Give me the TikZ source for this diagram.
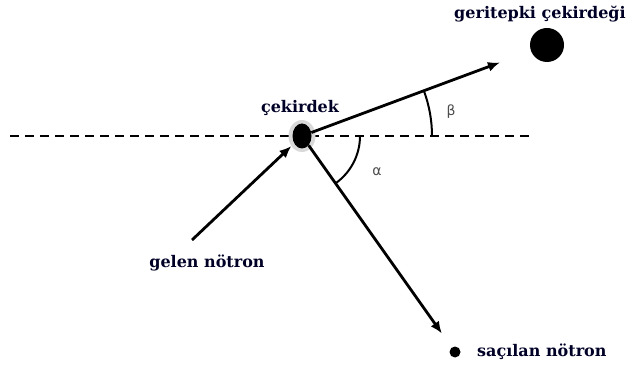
\documentclass[tikz,border=0pt]{standalone}
\usepackage{fontspec}
\setmainfont{DejaVu Serif}
\newfontfamily\greekfont{DejaVu Sans}
\usetikzlibrary{arrows.meta,shapes.geometric,calc}

\begin{document}
\begin{tikzpicture}[x=1pt, y=1pt,
      nuc/.style={ellipse, fill=black, minimum width=19pt, minimum height=25pt, inner sep=0pt},
      halo/.style={ellipse, fill=black!15, minimum width=27pt, minimum height=32pt, inner sep=0pt},
      ball/.style={circle, fill=black, inner sep=0pt},
      lbl/.style={font=\fontsize{16}{18}\selectfont\bfseries, text=black!85!blue, inner sep=1pt},
      ang/.style={font=\greekfont\fontsize{14}{16}\selectfont, text=black!70, inner sep=1pt},
      arr/.style={-{Latex[length=12pt,width=10pt]}, line width=2.8pt},
      axis/.style={dashed, dash pattern=on 9pt off 6pt, line width=2.4pt},
      arcline/.style={line width=2pt}
    ]
    \useasboundingbox (0,0) rectangle (631,367);
    % axis and nuclei
    \draw[axis] (10,231) -- (530,231);
    \node[halo] (halo) at (302,231) {};
    \node[nuc]  (cek)  at (302,231) {};
    \node[ball, minimum size=34pt] (geri) at (547,322) {};
    \node[ball, minimum size=11pt] (sac)  at (455,15) {};
    \coordinate (gelen) at (192,127);
    % labels
    \node[lbl] (cekl)  at (300,259) {çekirdek};
    \node[lbl] (geril) at (540,353) {geritepki çekirdeği};
    \node[lbl] (gelenl) at (207,104) {gelen nötron};
    \node[lbl, anchor=west] (sacl) at (476,15) {saçılan nötron};
    % tracks
    \draw[arr] (gelen) -- (halo);
    \draw[arr, shorten >=33pt] (cek) -- (geri);
    \draw[arr, shorten >=17pt] (cek) -- (sac);
    % angles
    \draw[arcline] ($(cek.center)+(0:130)$) arc[start angle=0, end angle=20.4, radius=130];
    \draw[arcline] ($(cek.center)+(0:58)$) arc[start angle=0, end angle=-54.7, radius=58];
    \node[ang] (beta)  at (451,255) {β};
    \node[ang] (alpha) at (377,195) {α};
  \end{tikzpicture}
\end{document}
